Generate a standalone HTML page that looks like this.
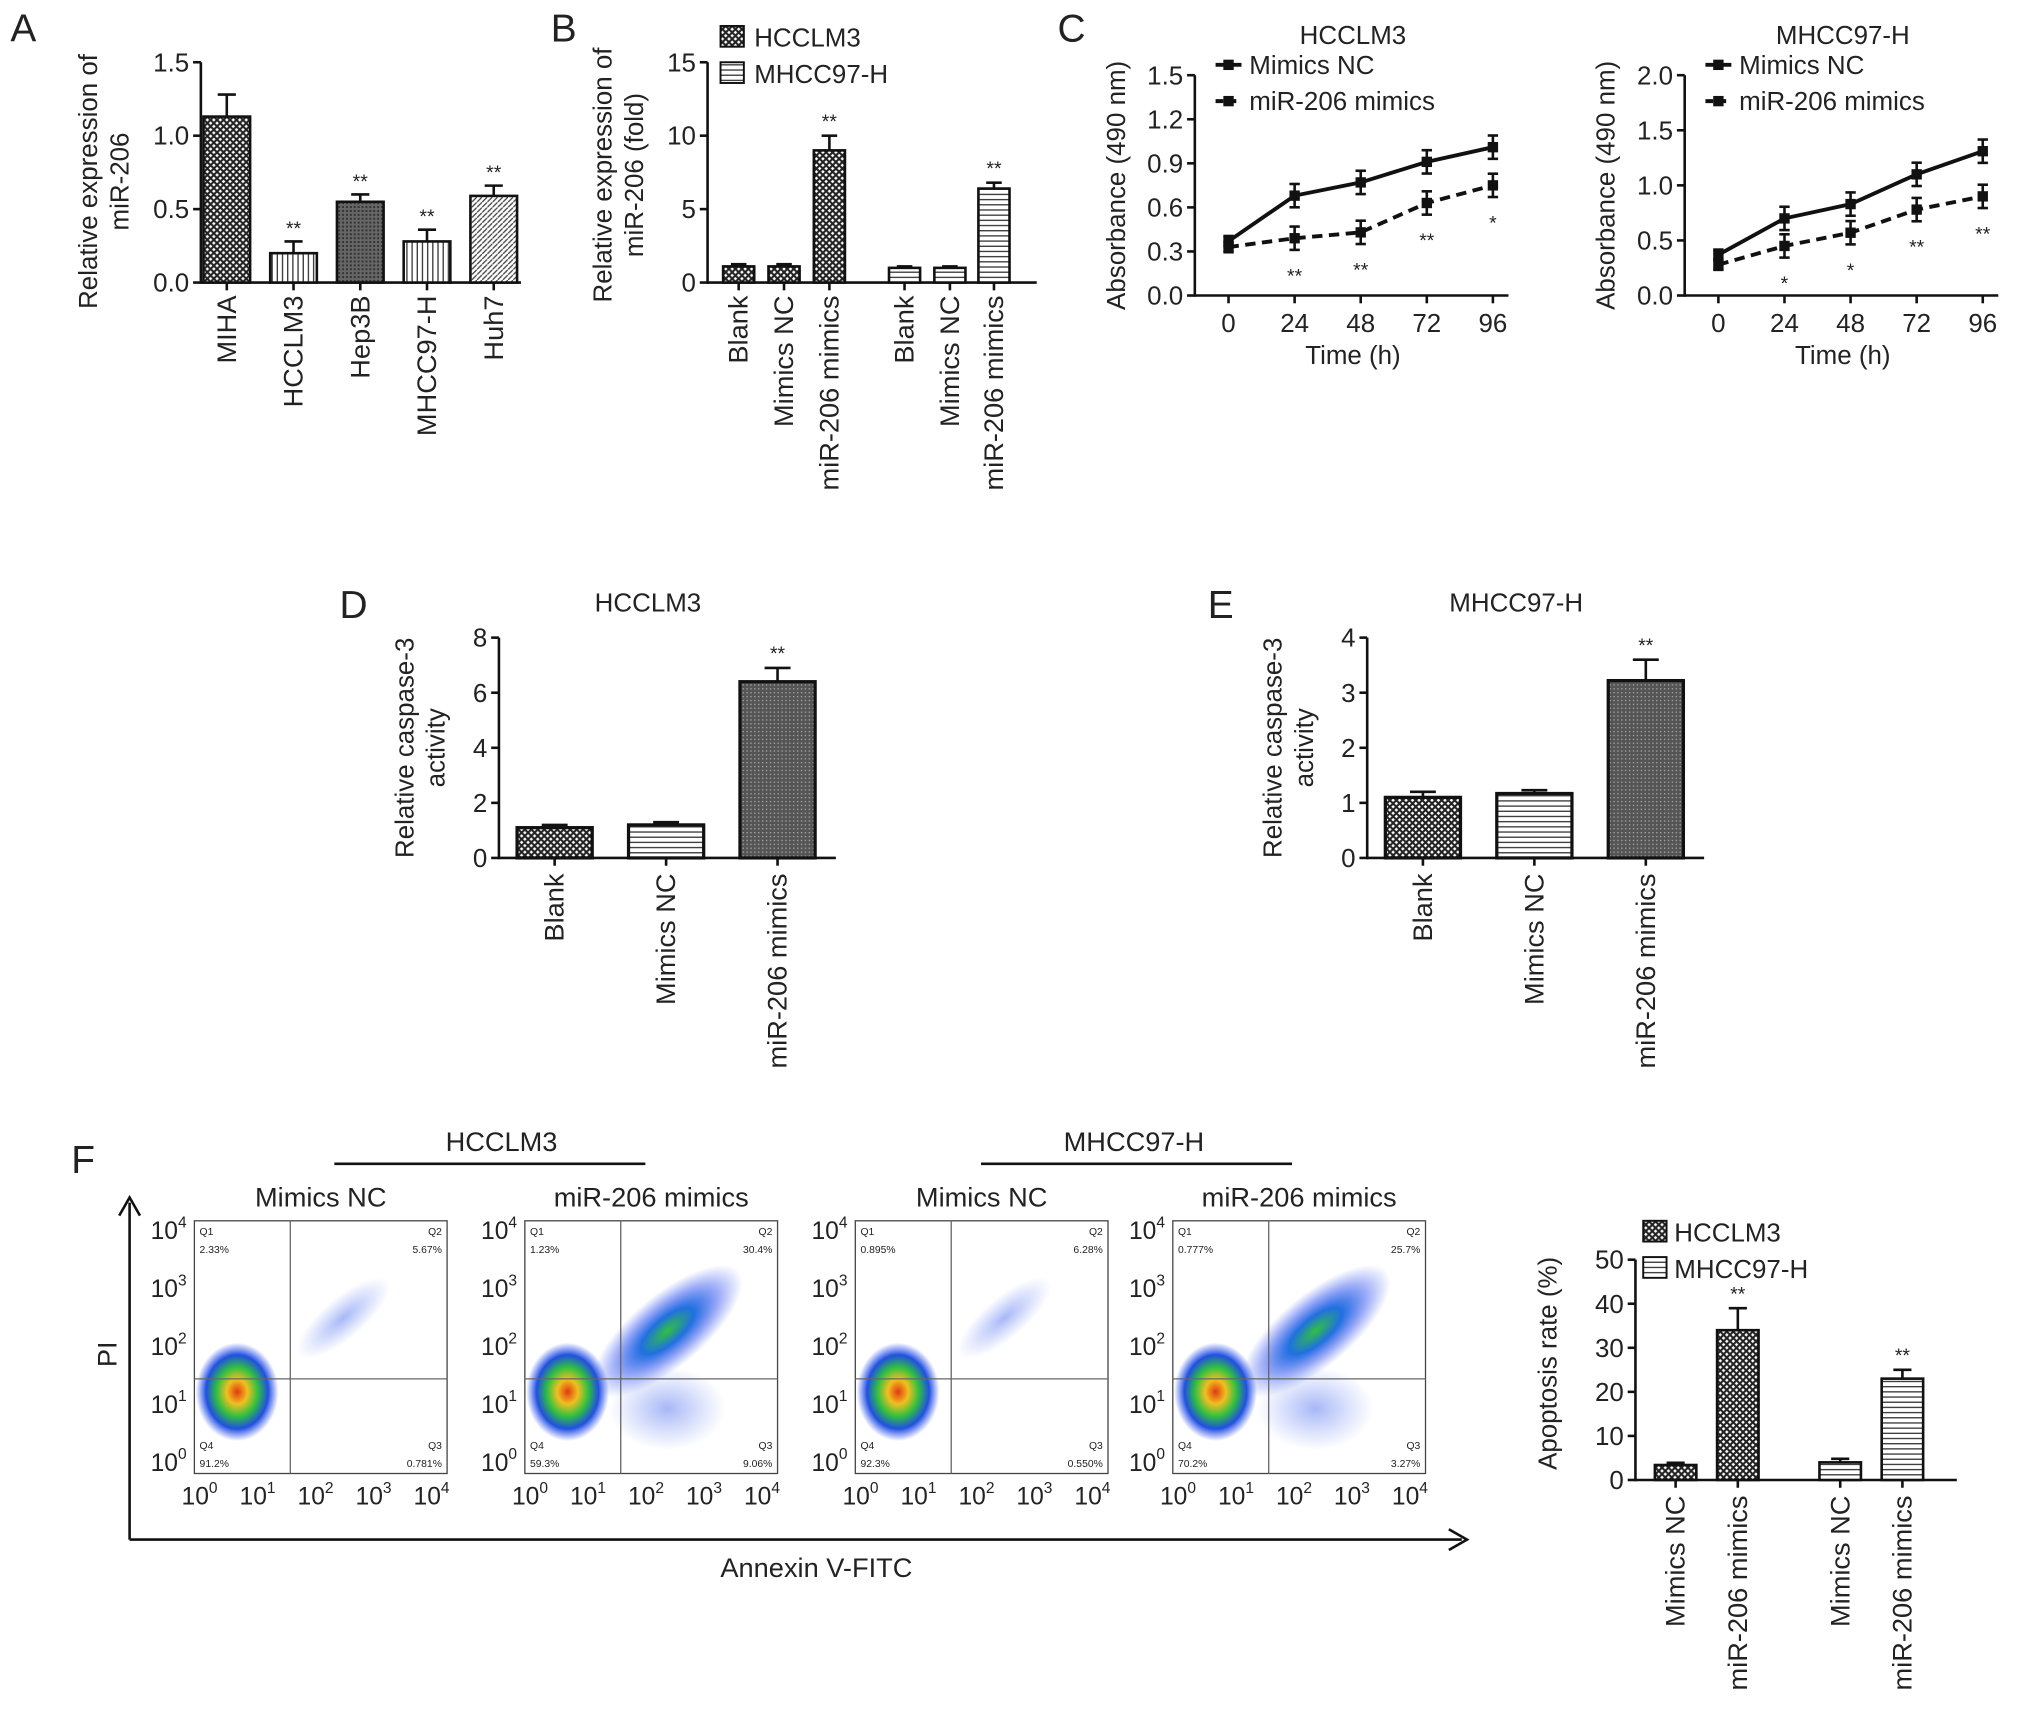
<!DOCTYPE html>
<html><head><meta charset="utf-8"><style>
html,body{margin:0;padding:0;background:#fff}
svg{display:block}
text{font-family:"Liberation Sans",Arial,sans-serif;fill:#222}
</style></head><body>
<svg id="fig" width="2032" height="1712" viewBox="0 0 1568 1321" xmlns="http://www.w3.org/2000/svg">
<defs>
<pattern id="chk" width="5" height="5" patternUnits="userSpaceOnUse"><rect width="5" height="5" fill="#fff"/><path d="M0 0L5 5M5 0L0 5" stroke="#222" stroke-width="1.6"/></pattern>
<pattern id="hor" width="4" height="4" patternUnits="userSpaceOnUse"><rect width="4" height="4" fill="#fff"/><path d="M0 2H4" stroke="#333" stroke-width="1"/></pattern>
<pattern id="ver" width="4" height="4" patternUnits="userSpaceOnUse"><rect width="4" height="4" fill="#fff"/><path d="M2 0V4" stroke="#333" stroke-width="1"/></pattern>
<pattern id="dia" width="4" height="4" patternUnits="userSpaceOnUse"><rect width="4" height="4" fill="#fff"/><path d="M0 4L4 0" stroke="#444" stroke-width="1"/></pattern>
<pattern id="drk" width="3" height="3" patternUnits="userSpaceOnUse"><rect width="3" height="3" fill="#666"/><rect width="1.5" height="1.5" fill="#333"/></pattern>
<pattern id="dot" width="3" height="3" patternUnits="userSpaceOnUse"><rect width="3" height="3" fill="#555"/><rect width="1" height="1" fill="#aaa"/></pattern>
<radialGradient id="blob"><stop offset="0" stop-color="#e23a10"/><stop offset="0.25" stop-color="#f0c020"/><stop offset="0.5" stop-color="#30c040"/><stop offset="0.75" stop-color="#2050e0"/><stop offset="1" stop-color="#3050f0" stop-opacity="0"/></radialGradient>
<radialGradient id="blob2"><stop offset="0" stop-color="#30c040"/><stop offset="0.35" stop-color="#2070e0"/><stop offset="0.7" stop-color="#3050f0" stop-opacity="0.45"/><stop offset="1" stop-color="#4060f0" stop-opacity="0"/></radialGradient>
<radialGradient id="blob3"><stop offset="0" stop-color="#5070f0" stop-opacity="0.5"/><stop offset="1" stop-color="#6080f0" stop-opacity="0"/></radialGradient>
</defs>
<g id="root"></g>
</svg>
<script>
// ---- data ----
const aCats=["MIHA","HCCLM3","Hep3B","MHCC97-H","Huh7"];
const aVals=[1.13,0.2,0.55,0.28,0.59];
const aErr=[0.15,0.08,0.05,0.08,0.07];
const aSig=["","**","**","**","**"];
const bCats=["Blank","Mimics NC","miR-206 mimics","Blank","Mimics NC","miR-206 mimics"];
const bVals=[1.1,1.1,9.0,1.0,1.0,6.4];
const bErr=[0.15,0.15,1.0,0.1,0.1,0.4];
const cTimes=[0,24,48,72,96];
const c1NC=[0.37,0.68,0.77,0.91,1.01];
const c1Mim=[0.33,0.39,0.43,0.63,0.75];
const c1Sig=["","**","**","**","*"];
const c2NC=[0.37,0.7,0.83,1.1,1.31];
const c2Mim=[0.28,0.45,0.57,0.78,0.9];
const c2Sig=["","*","*","**","**"];
const dCats=["Blank","Mimics NC","miR-206 mimics"];
const dVals=[1.1,1.2,6.4];
const dErr=[0.1,0.1,0.5];
const eVals=[1.1,1.17,3.22];
const eErr=[0.1,0.06,0.38];
const fCats=["Mimics NC","miR-206 mimics","Mimics NC","miR-206 mimics"];
const fVals=[3.4,34,4,23];
const fErr=[0.5,5,0.8,2];
const flowQ=[["2.33%","5.67%","91.2%","0.781%"],["1.23%","30.4%","59.3%","9.06%"],["0.895%","6.28%","92.3%","0.550%"],["0.777%","25.7%","70.2%","3.27%"]];

const NS="http://www.w3.org/2000/svg";
const root=document.getElementById('root');
const LBL=21, TCK=20;
function el(tag,attrs,parent,txt){const e=document.createElementNS(NS,tag);for(const k in attrs)e.setAttribute(k,attrs[k]);if(txt!==undefined)e.textContent=txt;(parent||root).appendChild(e);return e;}
function line(x1,y1,x2,y2,w,p){return el('line',{x1,y1,x2,y2,stroke:'#111','stroke-width':w||2},p);}
function txt(x,y,s,size,anchor,p,rot){const a={x,y,'font-size':size||18,'text-anchor':anchor||'middle'};if(rot)a.transform=`rotate(${rot} ${x} ${y})`;return el('text',a,p,s);}

function yAxis(x,y0,y1,ticks,fmt,name){
 const g=el('g',{});
 line(x,y0+1,x,y1,2,g);
 const mx=ticks[ticks.length-1];
 ticks.forEach(t=>{const y=y0-(y0-y1)*t/mx;line(x-6,y,x,y,2,g);txt(x-9,y+7,fmt(t),TCK,'end',g);});
 return v=>y0-(y0-y1)*v/mx;
}
function panelLabel(x,y,s){const t=txt(x,y,s,30,'start');}

// ---- Panel A ----
panelLabel(8,32,"A");
{const y0=218,sy=yAxis(155,y0,48,[0,0.5,1.0,1.5],t=>t.toFixed(1),'a-y-axis');
 line(155,y0,402,y0,2);
 const fills=["url(#chk)","url(#ver)","url(#drk)","url(#ver)","url(#dia)"];
 aCats.forEach((c,i)=>{const cx=175+i*51.5;
  const g=el('g',{});
  const yv=sy(aVals[i]),ye=sy(aVals[i]+aErr[i]);
  line(cx,yv,cx,ye,2,g);line(cx-7,ye,cx+7,ye,2,g);
  el('rect',{x:cx-18,y:yv,width:36,height:y0-yv,fill:fills[i],stroke:'#111','stroke-width':2},g);
  if(aSig[i])txt(cx,ye-5,aSig[i],15,'middle',g);
  line(cx,y0,cx,y0+6,2);
  txt(cx+7,228,c,LBL,'end',null,-90);
 });
 txt(75,140,"Relative expression of",20,'middle',null,-90);
 txt(99,140,"miR-206",20,'middle',null,-90);
}
// ---- Panel B ----
panelLabel(425,32,"B");
{const y0=218,sy=yAxis(546,y0,48,[0,5,10,15],t=>t,'b-y-axis');
 line(546,y0,800,y0,2);
 const xs=[570,605,640,698,733,767];
 bCats.forEach((c,i)=>{const cx=xs[i];const f=i<3?"url(#chk)":"url(#hor)";
  const g=el('g',{});
  const yv=sy(bVals[i]),ye=sy(bVals[i]+bErr[i]);
  line(cx,yv,cx,ye,2,g);line(cx-6,ye,cx+6,ye,2,g);
  el('rect',{x:cx-12,y:yv,width:24,height:y0-yv,fill:f,stroke:'#111','stroke-width':2},g);
  if(i==2||i==5)txt(cx,ye-6,"**",15,'middle',g);
  line(cx,y0,cx,y0+6,2);
  txt(cx+7,228,c,LBL,'end',null,-90);
 });
 txt(472,135,"Relative expression of",20,'middle',null,-90);
 txt(496,135,"miR-206 (fold)",20,'middle',null,-90);
 const lg=el('g',{});
 el('rect',{x:556,y:20,width:18,height:16,fill:'url(#chk)',stroke:'#111','stroke-width':1.5},lg);txt(582,36,"HCCLM3",20,'start',lg);
 el('rect',{x:556,y:48,width:18,height:16,fill:'url(#hor)',stroke:'#111','stroke-width':1.5},lg);txt(582,64,"MHCC97-H",20,'start',lg);
}
// ---- Panel C ----
panelLabel(816,32,"C");
function linePanel(ax,y0,y1,ticks,fmt,nc,mim,sig,title,name){
 const sy=yAxis(ax,y0,y1,ticks,fmt,name+'-y-axis');
 const sx=t=>ax+26+t/96*204;
 line(ax,y0,ax+242,y0,2);
 cTimes.forEach(t=>{line(sx(t),y0,sx(t),y0+6,2);txt(sx(t),y0+28,t,TCK);});
 txt(ax+122,y0+53,"Time (h)",20);
 txt(ax+122,y1-24,title,20);
 [[nc,'',name+'-mimics-nc-line'],[mim,'8,5',name+'-mir206-line']].forEach(([arr,dash,n])=>{
  const g=el('g',{});
  el('polyline',{points:arr.map((v,i)=>sx(cTimes[i])+','+sy(v)).join(' '),fill:'none',stroke:'#111','stroke-width':3,'stroke-dasharray':dash},g);
  arr.forEach((v,i)=>{const x=sx(cTimes[i]),y=sy(v);const e=i?9:4;
   line(x,y-e,x,y+e,2,g);line(x-4,y-e,x+4,y-e,2,g);line(x-4,y+e,x+4,y+e,2,g);
   el('rect',{x:x-4,y:y-4,width:8,height:8,fill:'#111'},g);});
 });
 mim.forEach((v,i)=>{if(sig[i])txt(sx(cTimes[i]),sy(v)+34,sig[i],15);});
 const lg=el('g',{});
 line(ax+16,y1-8,ax+36,y1-8,3,lg);el('rect',{x:ax+22,y:y1-12,width:8,height:8,fill:'#111'},lg);txt(ax+42,y1-1,"Mimics NC",20,'start',lg);
 el('line',{x1:ax+16,y1:y1+20,x2:ax+36,y2:y1+20,stroke:'#111','stroke-width':3,'stroke-dasharray':'6,4'},lg);el('rect',{x:ax+22,y:y1+16,width:8,height:8,fill:'#111'},lg);txt(ax+42,y1+27,"miR-206 mimics",20,'start',lg);
 txt(ax-54,(y0+y1)/2,"Absorbance (490 nm)",20,'middle',null,-90);
}
linePanel(922,228,58,[0,0.3,0.6,0.9,1.2,1.5],t=>t.toFixed(1),c1NC,c1Mim,c1Sig,"HCCLM3",'c1');
linePanel(1300,228,58,[0,0.5,1.0,1.5,2.0],t=>t.toFixed(1),c2NC,c2Mim,c2Sig,"MHCC97-H",'c2');
// ---- Panels D & E ----
function casPanel(ax,vals,errs,ticks,title,name){
 const y0=662,sy=yAxis(ax,y0,492,ticks,t=>t,name+'-y-axis');
 line(ax,y0,ax+260,y0,2);
 const fills=["url(#chk)","url(#hor)","url(#dot)"];
 dCats.forEach((c,i)=>{const cx=ax+43+i*86;
  const g=el('g',{});
  const yv=sy(vals[i]),ye=sy(vals[i]+errs[i]);
  line(cx,yv,cx,ye,2,g);line(cx-10,ye,cx+10,ye,2,g);
  el('rect',{x:cx-29,y:yv,width:58,height:y0-yv,fill:fills[i],stroke:'#111','stroke-width':2.5},g);
  if(i==2)txt(cx,ye-6,"**",15,'middle',g);
  line(cx,y0,cx,y0+6,2);
  txt(cx+7,674,c,LBL,'end',null,-90);
 });
 txt(ax+115,472,title,20);
 txt(ax-66,577,"Relative caspase-3",20,'middle',null,-90);
 txt(ax-42,577,"activity",20,'middle',null,-90);
}
panelLabel(262,477,"D");
casPanel(385,dVals,dErr,[0,2,4,6,8],"HCCLM3",'d');
panelLabel(932,477,"E");
casPanel(1055,eVals,eErr,[0,1,2,3,4],"MHCC97-H",'e');
// ---- Panel F ----
panelLabel(55,905,"F");
{const g=el('g',{});
 line(100,928,100,1188,2,g);line(100,1188,1128,1188,2,g);
 el('path',{d:'M92 938L100 924L108 938',fill:'none',stroke:'#111','stroke-width':2},g);
 el('path',{d:'M1118 1180L1132 1188L1118 1196',fill:'none',stroke:'#111','stroke-width':2},g);
 txt(90,1045,"PI",21,'middle',g,-90);
 txt(630,1217,"Annexin V-FITC",21,'middle',g);
 line(258,898,498,898,2,g);txt(387,888,"HCCLM3",21,'middle',g);
 line(757,898,997,898,2,g);txt(875,888,"MHCC97-H",21,'middle',g);
}
const boxes=[150,405,660,905];
const titles=["Mimics NC","miR-206 mimics","Mimics NC","miR-206 mimics"];
boxes.forEach((bx,k)=>{
 const g=el('g',{});
 const by=942,w=195,h=195;
 txt(bx+w/2,931,titles[k],21,'middle',g);
 el('rect',{x:bx,y:by,width:w,height:h,fill:'#fff',stroke:'#444','stroke-width':1},g);
 const strong=k%2==1;
 const cx2=bx+(strong?110:115),cy2=by+(strong?85:75);
 el('ellipse',{cx:cx2,cy:cy2,rx:strong?72:45,ry:strong?28:16,transform:`rotate(-40 ${cx2} ${cy2})`,fill:strong?'url(#blob2)':'url(#blob3)'},g);
 if(strong)el('ellipse',{cx:bx+110,cy:by+145,rx:45,ry:32,fill:'url(#blob3)'},g);
 el('ellipse',{cx:bx+33,cy:by+132,rx:32,ry:38,fill:'url(#blob)'},g);
 line(bx+74,by,bx+74,by+h,1,g).setAttribute('stroke','#666');
 line(bx,by+122,bx+w,by+122,1,g).setAttribute('stroke','#666');
 const q=flowQ[k];
 txt(bx+4,by+11,"Q1",8,'start',g);txt(bx+4,by+25,q[0],8,'start',g);
 txt(bx+w-4,by+11,"Q2",8,'end',g);txt(bx+w-4,by+25,q[1],8,'end',g);
 txt(bx+4,by+176,"Q4",8,'start',g);txt(bx+4,by+190,q[2],8,'start',g);
 txt(bx+w-4,by+176,"Q3",8,'end',g);txt(bx+w-4,by+190,q[3],8,'end',g);
 [0,1,2,3,4].forEach(p=>{
  const yy=by+h-8-p*(h-16)/4;
  const t=txt(bx-6,yy+6,"10",19,'end',g);el('tspan',{dy:-9,'font-size':12},t,p);
  const xx=bx+8+p*(w-16)/4;
  const t2=txt(xx-4,by+h+24,"10",19,'middle',g);el('tspan',{dy:-9,'font-size':12},t2,p);
 });
});
// apoptosis bars
{const y0=1142,sy=yAxis(1262,y0,972,[0,10,20,30,40,50],t=>t,'f-y-axis');
 line(1262,y0,1510,y0,2);
 const xs=[1293,1341,1420,1468];const fills=["url(#chk)","url(#chk)","url(#hor)","url(#hor)"];
 fCats.forEach((c,i)=>{const cx=xs[i];
  const g=el('g',{});
  const yv=sy(fVals[i]),ye=sy(fVals[i]+fErr[i]);
  line(cx,yv,cx,ye,2,g);line(cx-7,ye,cx+7,ye,2,g);
  el('rect',{x:cx-16,y:yv,width:32,height:y0-yv,fill:fills[i],stroke:'#111','stroke-width':2},g);
  if(i%2==1)txt(cx,ye-6,"**",15,'middle',g);
  line(cx,y0,cx,y0+6,2);
  txt(cx+7,1154,c,LBL,'end',null,-90);
 });
 txt(1201,1052,"Apoptosis rate (%)",20,'middle',null,-90);
 const lg=el('g',{});
 el('rect',{x:1268,y:942,width:18,height:16,fill:'url(#chk)',stroke:'#111','stroke-width':1.5},lg);txt(1292,958,"HCCLM3",20,'start',lg);
 el('rect',{x:1268,y:970,width:18,height:16,fill:'url(#hor)',stroke:'#111','stroke-width':1.5},lg);txt(1292,986,"MHCC97-H",20,'start',lg);
}
</script>
</body></html>
